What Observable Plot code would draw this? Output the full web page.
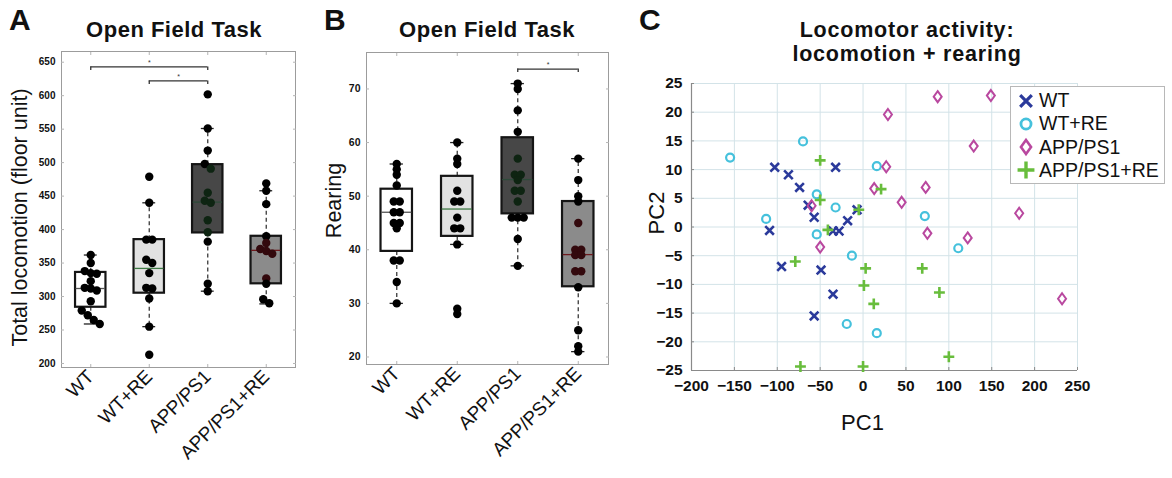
<!DOCTYPE html>
<html><head><meta charset="utf-8">
<script src="https://cdn.jsdelivr.net/npm/d3@7"></script>
<script src="https://cdn.jsdelivr.net/npm/@observablehq/plot@0.6"></script>
<style>
body{margin:0;background:#fff;font-family:"Liberation Sans",Arial,Helvetica,sans-serif;}
#wrap{position:relative;width:1172px;height:478px;overflow:hidden;background:#fff;}
.abs{position:absolute;}
.letter{font-weight:bold;font-size:30px;line-height:30px;color:#111;}
.title{font-weight:bold;font-size:22px;line-height:22px;letter-spacing:0.5px;color:#111;text-align:center;white-space:nowrap;width:300px;}
.ctitle{font-weight:bold;font-size:21.5px;line-height:23.5px;letter-spacing:0.8px;color:#111;text-align:center;white-space:nowrap;width:400px;}
#legend{border:1px solid #b8b8b8;background:#fff;}
.lrow{position:absolute;left:0;height:23px;display:flex;align-items:center;font-size:19.5px;color:#111;white-space:nowrap;}
.lrow svg{margin-left:5px;margin-right:3px;}
</style></head><body>
<div id="wrap">
  <div class="abs letter" style="left:9px;top:5px">A</div>
  <div class="abs letter" style="left:324px;top:5px">B</div>
  <div class="abs letter" style="left:639px;top:5px">C</div>
  <div class="abs title" style="left:24px;top:19px">Open Field Task</div>
  <div class="abs title" style="left:337px;top:19px">Open Field Task</div>
  <div class="abs ctitle" style="left:707px;top:19px">Locomotor activity:<br>locomotion + rearing</div>
  <div id="pA" class="abs" style="left:0;top:0"></div>
  <div id="pB" class="abs" style="left:300px;top:0"></div>
  <div id="pC" class="abs" style="left:640px;top:0"></div>
  <div id="legend" class="abs" style="left:1010px;top:86px;width:153px;height:96px"></div>
</div>
<script>
const FONT = '"Liberation Sans", Arial, Helvetica, sans-serif';
const groups = ["WT", "WT+RE", "APP/PS1", "APP/PS1+RE"];

// Panel A: total locomotion (floor unit)
const locoWT    = [362, 350, 338, 335, 334, 323, 313, 312, 309, 293, 279, 272, 265, 259];
const locoWTRE  = [479, 440, 385, 385, 355, 350, 335, 313, 312, 297, 255, 213];
const locoAPP   = [602, 551, 518, 498, 491, 455, 443, 440, 414, 396, 382, 319, 308];
const locoAPPRE = [469, 458, 438, 390, 380, 371, 368, 364, 327, 319, 296, 290];
const locoQ1  = [284, 305, 395, 319];
const locoMed = [312, 342, 441, 369];
const locoQ3  = [336, 385, 497, 390];
const locoLo  = [259, 255, 308, 289];
const locoHi  = [362, 440, 551, 458];
const locoTicks = [200, 250, 300, 350, 400, 450, 500, 550, 600, 650];
const sigAFrom = ["WT", "WT+RE"];
const sigATo   = ["APP/PS1", "APP/PS1"];
const sigAY    = [643, 622];

// Panel B: rearing
const rearWT    = [56, 55, 54, 52, 49, 49, 47, 47, 45, 45, 44, 38, 38, 34, 30];
const rearWTRE  = [60, 57, 56, 51, 49, 49, 46, 44, 44, 41, 29, 28];
const rearAPP   = [71, 70, 66, 62, 57, 54, 54, 53, 51, 51, 49, 46, 46, 46, 42, 37];
const rearAPPRE = [57, 53, 50, 49, 45, 40, 40, 39, 39, 36, 36, 33, 25, 22, 21];
const rearQ1  = [39.7, 42.5, 46.7, 33.1];
const rearMed = [47.0, 47.6, 53.1, 39.1];
const rearQ3  = [51.3, 53.7, 60.9, 49.0];
const rearLo  = [30, 41, 37, 21];
const rearHi  = [56, 60, 71, 57];
const rearTicks = [20, 30, 40, 50, 60, 70];
const sigBFrom = ["APP/PS1"];
const sigBTo   = ["APP/PS1+RE"];
const sigBY    = [73.7];

// Panel C: PCA scores
const pcWTx    = [-103, -87, -74, -32, -64, -57, -18, -7, -109, -35, -28, -95, -49, -35, -57];
const pcWTy    = [10.4, 9.1, 6.9, 10.4, 3.8, 1.7, 1.1, 3.0, -0.6, -0.7, -0.7, -6.9, -7.5, -11.7, -15.5];
const pcWTREx  = [-155, -70, 16, -54, -32, -113, -54, -13, -19, 16, 72, 111];
const pcWTREy  = [12.1, 14.9, 10.6, 5.7, 3.4, 1.4, -1.3, -5.0, -16.9, -18.5, 1.9, -3.7];
const pcAPPx   = [29, 27, 13, 45, -60, -50, 87, 149, 129, 73, 182, 75, 122, 232];
const pcAPPy   = [19.6, 10.5, 6.7, 4.3, 3.7, -3.5, 22.7, 22.9, 14.1, 6.9, 2.4, -1.1, -1.9, -12.5];
const pcAPPREx = [-50, 21, -50, -5, -41, -79, 3, 1, 12.5, -73, 0, 69, 89, 100];
const pcAPPREy = [11.6, 6.6, 4.7, 3.0, -0.5, -6.0, -7.2, -10.2, -13.4, -24.3, -24.3, -7.2, -11.4, -22.6];
const pcXTicks = [-200, -150, -100, -50, 0, 50, 100, 150, 200, 250];
const pcYTicks = [-25, -20, -15, -10, -5, 0, 5, 10, 15, 20, 25];

// styles
const boxFill   = ["#ffffff", "#e2e2e2", "#474747", "#8b8b8b"];
const medStroke = ["#555555", "#3f7a45", "#2e4a3a", "#6e1a1e"];
const innerTint = ["#000000", "#000000", "#0e2412", "#33090d"];
const pcColors  = ["#2b3a9b", "#45c1dc", "#b9489f", "#68bd3c"];

const tallDiamond = {
  draw(context, size) {
    const r = Math.sqrt(size / Math.PI);
    context.moveTo(0, -1.375 * r);
    context.lineTo(r, 0);
    context.lineTo(0, 1.375 * r);
    context.lineTo(-r, 0);
    context.closePath();
  }
};

function boxPanel(cfg) {
  const {values, q1, med, q3, lo, hi, yDomain, yTicks, yLabel, sigFrom, sigTo, sigY,
         width, height, mt, mr, mb, ml, labelDx, labelDy, tickFont} = cfg;
  const k = (height - mt - mb) / (yDomain[1] - yDomain[0]);
  const pxu = (width - ml - mr) / 4;
  const pts = [];
  values.forEach((vals, i) => {
    const vs = vals.slice().sort((a, b) => b - a);
    let cl = [];
    const flush = () => {
      const n = cl.length;
      cl.forEach((v, j) => pts.push({i, v, off: (j - (n - 1) / 2) * 6 / pxu, inside: v > q1[i] && v < q3[i]}));
      cl = [];
    };
    vs.forEach(v => { if (cl.length && (cl[cl.length - 1] - v) * k > 5) flush(); cl.push(v); });
    flush();
  });
  const stats = groups.map((g, i) => ({i, q1: q1[i], med: med[i], q3: q3[i], lo: lo[i], hi: hi[i]}));
  const sig = sigFrom.map((f, j) => ({a: groups.indexOf(f), b: groups.indexOf(sigTo[j]), y: sigY[j]}));
  const drop = 3.5 / k;
  const ends = sig.flatMap(s => [{x: s.a, y: s.y}, {x: s.b, y: s.y}]);
  const idx = [0, 1, 2, 3];
  return Plot.plot({
    width, height, marginTop: mt, marginRight: mr, marginBottom: mb, marginLeft: ml,
    style: {fontFamily: FONT, color: "#111", background: "transparent", overflow: "visible"},
    x: {domain: [-0.5, 3.5]},
    y: {domain: yDomain},
    color: {type: "identity"},
    marks: [
      Plot.frame({stroke: "#9c9c9c"}),
      Plot.axisY({ticks: yTicks, anchor: "left", tickSize: -3, tickFormat: () => "", stroke: "#b5b5b5", label: null}),
      Plot.axisY({ticks: yTicks, anchor: "right", tickSize: -3, tickFormat: () => "", stroke: "#b5b5b5", label: null}),
      Plot.axisX({ticks: idx, anchor: "top", tickSize: -3, tickFormat: () => "", stroke: "#b5b5b5", label: null}),
      Plot.axisX({ticks: idx, anchor: "bottom", tickSize: -3, tickFormat: () => "", stroke: "#b5b5b5", label: null}),
      Plot.axisY({ticks: yTicks, anchor: "left", tickSize: 0, tickPadding: 6, fontSize: tickFont, fontWeight: "bold", label: null}),
      Plot.axisX({ticks: idx, anchor: "bottom", tickFormat: i => groups[i], tickRotate: -45, tickSize: 0, tickPadding: 6, fontSize: 19, label: null}),
      Plot.ruleX(stats, {x: "i", y1: "q3", y2: "hi", stroke: "#3a3a3a", strokeDasharray: "4,3", strokeWidth: 1.3}),
      Plot.ruleX(stats, {x: "i", y1: "q1", y2: "lo", stroke: "#3a3a3a", strokeDasharray: "4,3", strokeWidth: 1.3}),
      Plot.ruleY(stats, {y: "hi", x1: d => d.i - 0.11, x2: d => d.i + 0.11, stroke: "#222", strokeWidth: 1.3}),
      Plot.ruleY(stats, {y: "lo", x1: d => d.i - 0.11, x2: d => d.i + 0.11, stroke: "#222", strokeWidth: 1.3}),
      Plot.rect(stats, {x1: d => d.i - 0.26, x2: d => d.i + 0.26, y1: "q1", y2: "q3", fill: d => boxFill[d.i], stroke: "#151515", strokeWidth: 2.2}),
      Plot.ruleY(stats, {y: "med", x1: d => d.i - 0.25, x2: d => d.i + 0.25, stroke: d => medStroke[d.i], strokeWidth: 1.3}),
      Plot.dot(pts, {x: d => d.i + d.off, y: "v", r: 4.2, fill: d => d.inside ? innerTint[d.i] : "#000000", stroke: "none"}),
      Plot.ruleY(sig, {x1: "a", x2: "b", y: "y", stroke: "#333", strokeWidth: 1.3}),
      Plot.ruleX(ends, {x: "x", y1: "y", y2: d => d.y - drop, stroke: "#333", strokeWidth: 1.3}),
      Plot.text(sig, {x: d => (d.a + d.b) / 2, y: "y", text: () => "*", fontSize: 7, dy: -4, fill: "#333"}),
      Plot.text([yLabel], {text: d => d, frameAnchor: "left", textAnchor: "middle", lineAnchor: "middle", dx: labelDx, dy: labelDy, rotate: -90, fontSize: 21.5, fill: "#111"})
    ]
  });
}

document.getElementById("pA").append(boxPanel({
  values: [locoWT, locoWTRE, locoAPP, locoAPPRE],
  q1: locoQ1, med: locoMed, q3: locoQ3, lo: locoLo, hi: locoHi,
  yDomain: [194, 666], yTicks: locoTicks, yLabel: "Total locomotion (floor unit)",
  sigFrom: sigAFrom, sigTo: sigATo, sigY: sigAY,
  width: 310, height: 440, mt: 51, mr: 15, mb: 73, ml: 61, labelDx: -41, labelDy: 8, tickFont: 10
}));

document.getElementById("pB").append(boxPanel({
  values: [rearWT, rearWTRE, rearAPP, rearAPPRE],
  q1: rearQ1, med: rearMed, q3: rearQ3, lo: rearLo, hi: rearHi,
  yDomain: [18.6, 76.8], yTicks: rearTicks, yLabel: "Rearing",
  sigFrom: sigBFrom, sigTo: sigBTo, sigY: sigBY,
  width: 320, height: 440, mt: 52, mr: 12, mb: 76, ml: 66, labelDx: -32, labelDy: -8, tickFont: 10.5
}));

// Panel C
const pcSets = [
  {x: pcWTx, y: pcWTy, symbol: "times", r: 4, sw: 2.6},
  {x: pcWTREx, y: pcWTREy, symbol: "circle", r: 4, sw: 2.2},
  {x: pcAPPx, y: pcAPPy, symbol: tallDiamond, r: 4, sw: 2},
  {x: pcAPPREx, y: pcAPPREy, symbol: "plus", r: 3.6, sw: 2.6}
];
const pcMarks = pcSets.map((s, g) => {
  const rows = s.x.map((x, j) => ({x, y: s.y[j]}));
  return Plot.dot(rows, {x: "x", y: "y", symbol: s.symbol, r: s.r, stroke: pcColors[g], strokeWidth: s.sw, fill: "none"});
});

document.getElementById("pC").append(Plot.plot({
  width: 532, height: 440, marginTop: 83, marginRight: 95, marginBottom: 70, marginLeft: 51,
  style: {fontFamily: FONT, color: "#111", background: "transparent", overflow: "visible"},
  x: {domain: [-200, 250]},
  y: {domain: [-25, 25]},
  marks: [
    Plot.gridX({ticks: pcXTicks, stroke: "#d3e3e8", strokeOpacity: 1}),
    Plot.gridY({ticks: pcYTicks, stroke: "#d3e3e8", strokeOpacity: 1}),
    Plot.ruleX([-200], {stroke: "#8a8a8a", strokeWidth: 1.2}),
    Plot.ruleY([-25], {stroke: "#8a8a8a", strokeWidth: 1.2}),
    Plot.axisX({ticks: pcXTicks, tickSize: -3, tickFormat: () => "", stroke: "#8a8a8a", label: null}),
    Plot.axisY({ticks: pcYTicks, tickSize: -3, tickFormat: () => "", stroke: "#8a8a8a", label: null}),
    Plot.axisX({ticks: pcXTicks, tickSize: 0, tickPadding: 9, fontSize: 15.5, fontWeight: "bold", label: null}),
    Plot.axisY({ticks: pcYTicks, tickSize: 0, tickPadding: 9, fontSize: 15.5, fontWeight: "bold", label: null}),
    ...pcMarks,
    Plot.text(["PC2"], {text: d => d, frameAnchor: "left", textAnchor: "middle", lineAnchor: "middle", dx: -35, dy: -14, rotate: -90, fontSize: 22, fill: "#111"}),
    Plot.text(["PC1"], {text: d => d, frameAnchor: "bottom", textAnchor: "middle", lineAnchor: "middle", dx: -22, dy: 52, fontSize: 22, fill: "#111"})
  ]
}));

// Legend for panel C
const legendSymbols = [
  d3.symbol(d3.symbolTimes, 90)(),
  d3.symbol(d3.symbolCircle, 80)(),
  d3.symbol(tallDiamond, 80)(),
  d3.symbol(d3.symbolPlus, 95)()
];
const legendWidths = [3.2, 2.8, 2.6, 3.4];
const leg = document.getElementById("legend");
groups.forEach((g, i) => {
  const row = document.createElement("div");
  row.className = "lrow";
  row.style.top = (2 + i * 23.3) + "px";
  row.innerHTML = `<svg width="20" height="20" viewBox="-10 -10 20 20"><path d="${legendSymbols[i]}" fill="none" stroke="${pcColors[i]}" stroke-width="${legendWidths[i]}"/></svg><span>${g}</span>`;
  leg.append(row);
});
</script>
</body></html>
